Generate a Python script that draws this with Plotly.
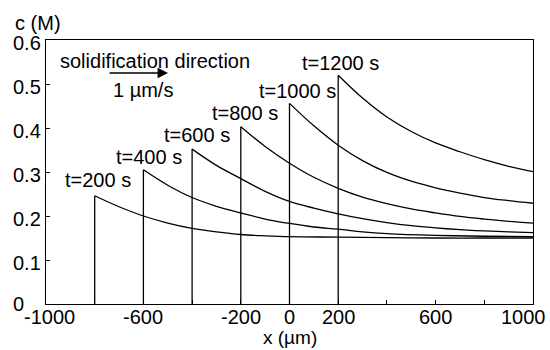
import plotly.graph_objects as go

# Read values (x in µm, c in M)
times = [200, 400, 600, 800, 1000, 1200]

x_t200 = [-800, -700, -600, -500, -400, -300, -200, -100, 0, 200, 400, 600, 800, 1000]
c_t200 = [0.246, 0.221, 0.200, 0.184, 0.172, 0.164, 0.158, 0.155, 0.153, 0.152, 0.151, 0.150, 0.150, 0.150]

x_t400 = [-600, -500, -400, -300, -200, -100, 0, 100, 200, 300, 400, 600, 800, 1000]
c_t400 = [0.305, 0.270, 0.242, 0.222, 0.207, 0.193, 0.183, 0.175, 0.170, 0.164, 0.160, 0.156, 0.154, 0.153]

x_t600 = [-400, -300, -200, -100, 0, 100, 200, 300, 400, 500, 600, 700, 800, 900, 1000]
c_t600 = [0.352, 0.315, 0.285, 0.256, 0.233, 0.218, 0.205, 0.194, 0.185, 0.178, 0.173, 0.169, 0.166, 0.164, 0.162]

x_t800 = [-200, -100, 0, 100, 200, 300, 400, 500, 600, 700, 800, 900, 1000]
c_t800 = [0.403, 0.358, 0.320, 0.288, 0.263, 0.243, 0.228, 0.216, 0.207, 0.199, 0.193, 0.188, 0.184]

x_t1000 = [0, 100, 200, 300, 400, 500, 600, 700, 800, 900, 1000]
c_t1000 = [0.456, 0.405, 0.361, 0.326, 0.299, 0.279, 0.264, 0.252, 0.242, 0.235, 0.229]

x_t1200 = [200, 300, 400, 500, 600, 700, 800, 900, 1000]
c_t1200 = [0.520, 0.468, 0.425, 0.392, 0.366, 0.346, 0.328, 0.313, 0.301]

series_x = [x_t200, x_t400, x_t600, x_t800, x_t1000, x_t1200]
series_c = [c_t200, c_t400, c_t600, c_t800, c_t1000, c_t1200]

# label anchor positions (data coords)
label_x = [-786, -577, -378, -183, 33, 209]
label_c = [0.281, 0.334, 0.384, 0.433, 0.485, 0.547]

x_tickvals = [-1000, -600, -200, 0, 200, 600, 1000]
x_ticktext = ["-1000", "-600", "-200", "0", "200", "600", "1000"]
x_minor = [-800, -400, 400, 800]
y_tickvals = [0, 0.1, 0.2, 0.3, 0.4, 0.5, 0.6]
y_ticktext = ["0", "0.1", "0.2", "0.3", "0.4", "0.5", "0.6"]

FONT = "Liberation Sans, Arial, sans-serif"
FS = 20
L, R, T, B = 46, 533, 40, 304
PW, PH = R - L, B - T


def px(xp):
    return (xp - L) / PW


def py(yp):
    return (B - yp) / PH


fig = go.Figure()
for xs, cs in zip(series_x, series_c):
    fig.add_trace(go.Scatter(x=[xs[0], xs[0]], y=[0, cs[0]], mode="lines",
                             line=dict(color="black", width=1.3), showlegend=False,
                             hoverinfo="skip"))
    fig.add_trace(go.Scatter(x=xs, y=cs, mode="lines",
                             line=dict(color="black", width=1.3, shape="spline", smoothing=1),
                             showlegend=False))

tf = dict(family=FONT, size=FS, color="black")
annotations = []
for t, lx, lc in zip(times, label_x, label_c):
    annotations.append(dict(x=lx, y=lc, xref="x", yref="y", text=f"t={t} s",
                            showarrow=False, font=tf))

annotations.append(dict(x=-552, y=0.552, xref="x", yref="y", text="solidification direction",
                        showarrow=False, font=tf))
annotations.append(dict(x=-600, y=0.486, xref="x", yref="y", text="1 µm/s",
                        showarrow=False, font=tf))
annotations.append(dict(x=-499, y=0.525, ax=-745, ay=0.525, xref="x", yref="y",
                        axref="x", ayref="y", text="", showarrow=True,
                        arrowhead=2, arrowsize=1.3, arrowwidth=1.6, arrowcolor="black"))
# y axis title
annotations.append(dict(x=px(37.5), y=py(23), xref="paper", yref="paper", text="c (M)",
                        showarrow=False, font=tf, xanchor="center", yanchor="middle"))
# x axis title
annotations.append(dict(x=px(290), y=py(350), xref="paper", yref="paper", text="x (µm)",
                        showarrow=False, font=dict(family=FONT, size=19, color="black"),
                        xanchor="center", yanchor="bottom"))
# y tick labels (left-aligned as in the reference)
for v, txt in zip(y_tickvals, y_ticktext):
    annotations.append(dict(x=px(11), y=v, xref="paper", yref="y", text=txt,
                            showarrow=False, font=tf, xanchor="left", yanchor="middle",
                            yshift=0 if v == 0 else -3))
# x tick labels
for v, txt in zip(x_tickvals, x_ticktext):
    xs_ = -10 if v == 1000 else (3 if v == -1000 else 0)
    annotations.append(dict(x=v, y=py(317), xref="x", yref="paper", text=txt,
                            showarrow=False, font=tf, xanchor="center", yanchor="middle",
                            xshift=xs_))

fig.update_layout(
    width=550, height=350,
    margin=dict(l=L, r=550 - R, t=T, b=350 - B),
    paper_bgcolor="white", plot_bgcolor="white",
    font=tf,
    annotations=annotations,
    xaxis=dict(range=[-1000, 1000], tickvals=x_tickvals, showticklabels=False,
               ticks="inside", ticklen=4, tickcolor="black", showgrid=False, zeroline=False,
               showline=True, linecolor="black", linewidth=1, mirror=True,
               minor=dict(tickvals=x_minor, ticks="inside", ticklen=4, tickcolor="black")),
    yaxis=dict(range=[0, 0.6], tickvals=y_tickvals, showticklabels=False,
               ticks="inside", ticklen=4, tickcolor="black", showgrid=False, zeroline=False,
               showline=True, linecolor="black", linewidth=1, mirror=True),
)

fig.write_html("out.html")
